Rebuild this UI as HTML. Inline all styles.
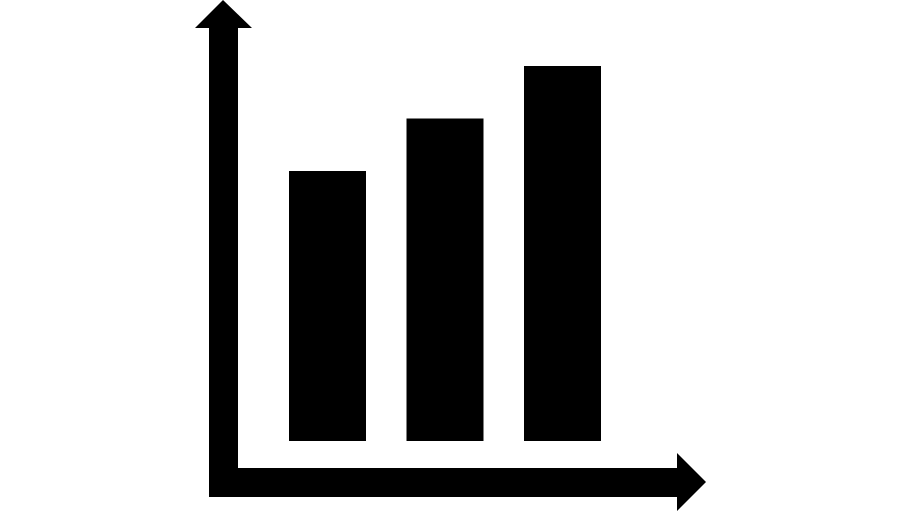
<!DOCTYPE html>
<html><head><meta charset="utf-8"><style>html,body{margin:0;padding:0;background:#fff}svg{display:block}</style></head>
<body>
<svg id="chart" width="900" height="520" viewBox="0 0 900 520">
<polygon fill="#000" points="223,0 252,28 238,28 238,468 677,468 677,453 706,482 677,511 677,497 209,497 209,28 195,28"/>
<g id="bars"></g>
</svg>
<script>
const categories = ["a", "b", "c"];
const values = [72, 86, 100];
const yMax = 100;
const baseY = 441, plotH = 375;
const x0 = 289, bw = 77, step = 117.5;
function yScale(v){ return baseY - v / yMax * plotH; }
function xScale(i){ return x0 + i * step; }
const g = document.getElementById('bars');
categories.forEach((c, i) => {
  const r = document.createElementNS('http://www.w3.org/2000/svg', 'rect');
  
  
  r.setAttribute('x', xScale(i));
  r.setAttribute('y', yScale(values[i]));
  r.setAttribute('width', bw);
  r.setAttribute('height', baseY - yScale(values[i]));
  r.setAttribute('fill', '#000');
  g.appendChild(r);
});
</script>
</body></html>
